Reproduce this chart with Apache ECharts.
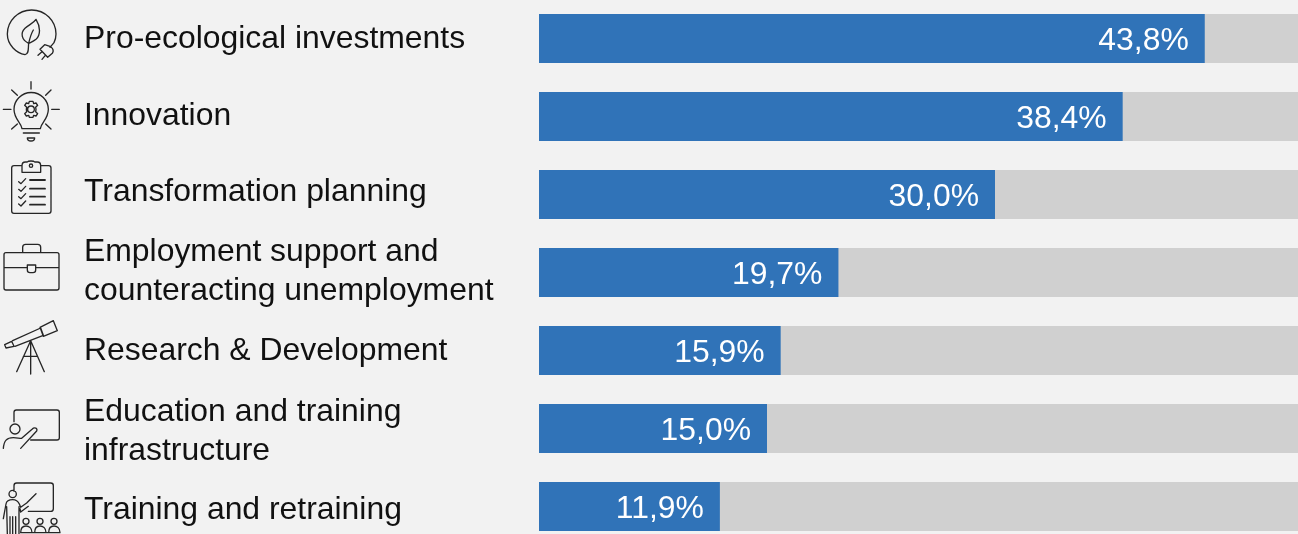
<!DOCTYPE html>
<html><head><meta charset="utf-8">
<style>html,body{margin:0;padding:0;background:#f2f2f2}#c{width:1298px;height:534px}</style>
<script src="https://cdn.jsdelivr.net/npm/echarts@6/dist/echarts.min.js"></script>
</head><body><div id="c"></div>
<script>
const categories = ['Pro-ecological investments','Innovation','Transformation planning','Employment support and\ncounteracting unemployment','Research & Development','Education and training\ninfrastructure','Training and retraining'];
const shares = [43.8,38.4,30.0,19.7,15.9,15.0,11.9];
const totals = [100,100,100,100,100,100,100];
const labelShift = [1,0,-2,-1,1,3,4];

const ICON = '#262626';
const FONT = '"Liberation Sans",Arial,sans-serif';
// icon outlines, drawn in a 3x frame (scaled down by the group)
const iconsTop = [
 'M162 128C166 120 168 112 168 102A73 72 0 0 0 22 102C22 135 50 160 75 164C88 162 84 145 86 130 M86 130C90 112 94 100 100 90 M86 130C65 120 60 100 75 85C90 72 100 70 108 58C122 80 122 105 108 118C100 125 92 127 86 130 M120 148L143 172L157 160C162 152 160 146 152 140L134 134Z M126 155L114 166 M136 166L126 178 M150 142L162 128',
 'M93 245V267 M10 328H33 M155 328H178 M35 270L52 286 M153 270L137 286 M35 387L52 372 M153 387L137 372 M66 386C64 368 42 358 42 328A51 50 0 1 1 145 328C145 358 123 368 121 386Z M70 399H118 M82 414H104C104 426 82 426 82 414Z M88 304H99L101 311L108 309L113 316L107 322L108 328L107 335L113 341L108 348L101 346L99 352H88L86 346L79 348L74 341L80 335L79 328L80 322L74 316L79 309L86 311Z M103 328A10 10 0 1 1 83 328A10 10 0 1 1 103 328Z',
 'M66 497H42Q35 497 35 504V633Q35 640 42 640H146Q153 640 153 633V504Q153 497 146 497H122 M66 517V497Q66 486 76 486H82Q84 483 93 483Q102 483 104 486H112Q122 486 122 497V517Z M98 497A5 5 0 1 1 88 497A5 5 0 1 1 98 497Z M56 545L63 551L77 536 M56 568L63 574L77 559 M56 590L63 596L77 581 M56 612L63 618L77 603'
];
const iconsTopBars = 'M90 540H135 M90 566H135 M90 590H135 M90 614H135';
const iconsBottom = [
 'M18 68H171Q177 68 177 74V174Q177 180 171 180H18Q12 180 12 174V74Q12 68 18 68Z M12 113H82 M107 113H177 M68 68V52Q68 43 77 43H113Q122 43 122 52V68 M82 105H107V120Q107 128 99 128H90Q82 128 82 120Z',
 'M14 344L35 334L42 349L18 354Z M38 332L122 294L130 316L45 349 M120 292L160 272L172 302L130 319Z M92 332L50 425 M92 332V432 M92 332L133 425 M70 379H112',
 'M42 575V547Q42 540 49 540H171Q178 540 178 547V623Q178 630 171 630H92 M60 597A15 15 0 1 1 30 597A15 15 0 1 1 60 597Z M10 655C12 632 20 623 40 623C50 623 58 625 65 625L97 597C103 590 114 595 110 603L62 655',
 'M42 784V767Q42 759 50 759H152Q160 759 160 767V836Q160 844 152 844H85 M49 792A11 11 0 1 1 27 792A11 11 0 1 1 49 792Z M10 866L18 822Q20 809 38 809Q52 809 58 822L62 832L80 819L108 791 M62 846L85 829 M62 846L60 836 M20 830L22 912 M30 860V912 M38 860V912 M47 860V912 M57 830V912 M87 874A9 9 0 1 1 69 874A9 9 0 1 1 87 874Z M129 874A9 9 0 1 1 111 874A9 9 0 1 1 129 874Z M171 874A9 9 0 1 1 153 874A9 9 0 1 1 171 874Z M62 908C62 893 70 888 78 888C86 888 96 893 96 908 M104 908C104 893 112 888 120 888C128 888 138 893 138 908 M146 908C146 893 154 888 162 888C170 888 180 893 180 908 M62 908H180'
];
const stroke = w => ({fill:'none',stroke:ICON,lineWidth:w,lineCap:'round',lineJoin:'round'});
const iconPath = (d,w) => ({type:'path',shape:{pathData:d},style:stroke(w)});
const renderIcons = () => ({type:'group',children:[
 {type:'group',x:0,y:0,scaleX:1/3,scaleY:1/3,children:[...iconsTop.map(d=>iconPath(d,4)),iconPath(iconsTopBars,5.5)]},
 {type:'group',x:0,y:230,scaleX:1/3,scaleY:1/3,children:iconsBottom.map(d=>iconPath(d,4))}
]});
// category names follow the category scale, each with its own small vertical nudge
const renderName = (params, api) => {
 const i = params.dataIndex, p = api.coord([0, i]);
 return {type:'text',x:p[0]-455,y:p[1]+labelShift[i],style:{text:categories[i],fill:'#111',font:'31.9px '+FONT,lineHeight:39,align:'left',verticalAlign:'middle'}};
};

const chart = echarts.init(document.getElementById('c'),null,{renderer:'canvas'});
chart.setOption({
 animation:false,
 backgroundColor:'#f2f2f2',
 grid:{left:539,top:-0.5,width:1520,height:546,containLabel:false,outerBoundsMode:'none'},
 xAxis:{type:'value',min:0,max:100,show:false},
 yAxis:{type:'category',inverse:true,data:categories,
  axisLine:{show:false},axisTick:{show:false},splitLine:{show:false},axisLabel:{show:false}},
 series:[
  {type:'bar',data:totals,barWidth:49,barGap:'-100%',silent:true,itemStyle:{color:'#d0d0d0'},z:1},
  {type:'bar',data:shares,barWidth:49,barGap:'-100%',itemStyle:{color:'#3073b8'},z:2,
   label:{show:true,position:'insideRight',distance:16,color:'#fff',fontFamily:FONT,fontSize:31.9,offset:[0,3],
    formatter:p=>p.value.toFixed(1).replace('.',',')+'%'}},
  {type:'custom',data:categories.map((c,i)=>i),encode:{y:0},silent:true,clip:false,z:4,renderItem:renderName},
  {type:'custom',coordinateSystem:'none',data:[0],silent:true,z:5,renderItem:renderIcons}
 ]
});
</script></body></html>
